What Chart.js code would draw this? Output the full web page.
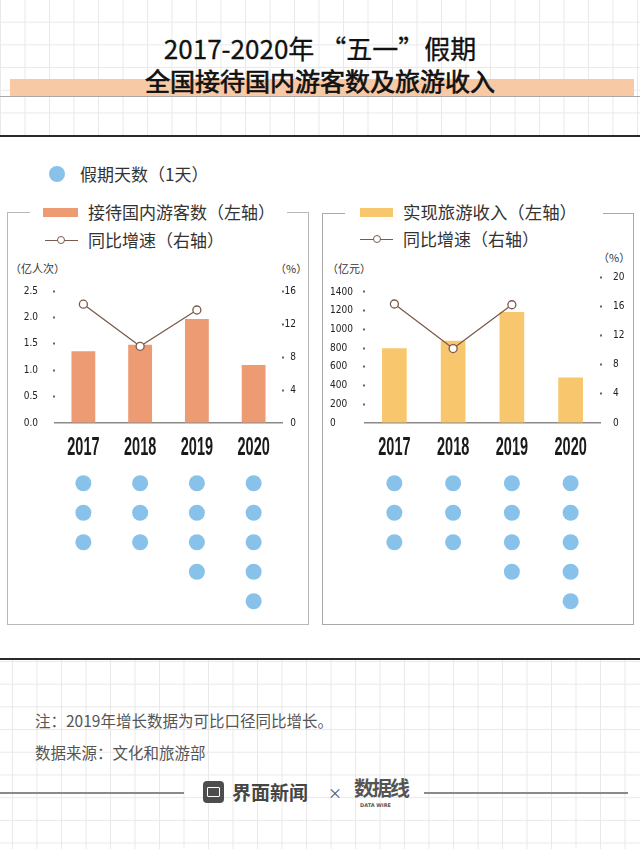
<!DOCTYPE html>
<html>
<head>
<meta charset="utf-8">
<script src="https://cdn.jsdelivr.net/npm/chart.js@4.4.0/dist/chart.umd.min.js"></script>
<style>
body { margin: 0; width: 640px; height: 849px; position: relative; overflow: hidden; background: #fff;
       font-family: "Noto Sans CJK SC", sans-serif; color: #333; }
.abs { position: absolute; }
.grid { position: absolute; left: 0; width: 640px; background-color: #fff;
        background-image: linear-gradient(to right, #e9e9e9 1px, transparent 1px),
                          linear-gradient(to bottom, #e9e9e9 1px, transparent 1px);
        background-size: 24.5px 22.7px; }
.txt { position: absolute; white-space: nowrap; line-height: 1; }
.box { position: absolute; border: 1px solid #b8b8b8; box-sizing: border-box; }
.legend { position: absolute; background: #fff; height: 50px; }
canvas { position: absolute; }
</style>
</head>
<body>
<div class="grid" style="top:0;height:136px;background-position:0 -1px"></div>
<div class="grid" style="top:660px;height:189px;background-position:12px 1px"></div>

<!-- title -->
<div class="abs" style="left:10px;top:79px;width:624px;height:18px;background:#f7c9a5"></div>
<div class="abs" style="left:0;top:96px;width:640px;height:1px;background:#a8a8a8"></div>
<div class="txt" style="left:0;width:640px;text-align:center;top:35px;font-size:26px;font-weight:400;color:#111;-webkit-text-stroke:0.3px #111">2017-2020年 “五一”假期</div>
<div class="txt" style="left:0;width:640px;text-align:center;top:68px;font-size:25px;font-weight:400;color:#111;-webkit-text-stroke:0.7px #111">全国接待国内游客数及旅游收入</div>
<div class="abs" style="left:0;top:135px;width:640px;height:2px;background:#2a2a2a"></div>
<div class="abs" style="left:0;top:658px;width:640px;height:2px;background:#2a2a2a"></div>

<!-- days legend -->
<div class="abs" style="left:49px;top:166px;width:16px;height:16px;border-radius:50%;background:#88c2ea"></div>
<div class="txt" style="left:80px;top:164.5px;font-size:17px">假期天数（1天）</div>

<!-- panels -->
<div class="box" style="left:7px;top:212px;width:302px;height:413px"></div>
<div class="box" style="left:322px;top:213px;width:312px;height:412px;border-color:#a8a8a8"></div>

<div class="legend" style="left:30px;top:200px;width:257px;height:24px"></div>
<div class="abs" style="left:43px;top:208px;width:35px;height:9px;background:#ec9b73"></div>
<div class="txt" style="left:88px;top:202.5px;font-size:17px">接待国内游客数（左轴）</div>
<div class="abs" style="left:45px;top:239.5px;width:33px;height:1.2px;background:#7a5a4b"></div>
<div class="abs" style="left:57px;top:236px;width:6px;height:6px;border-radius:50%;background:#fff;border:1.2px solid #7a5a4b"></div>
<div class="txt" style="left:88px;top:230.5px;font-size:17px">同比增速（右轴）</div>
<div class="txt" style="left:10px;top:263px;font-size:11px">（亿人次）</div>
<div class="txt" style="left:275px;top:263px;font-size:11px">（%）</div>

<div class="legend" style="left:345px;top:200px;width:258px;height:24px"></div>
<div class="abs" style="left:360px;top:208px;width:33px;height:9px;background:#f8c66d"></div>
<div class="txt" style="left:403px;top:202.5px;font-size:17.4px">实现旅游收入（左轴）</div>
<div class="abs" style="left:360px;top:238.5px;width:33px;height:1.2px;background:#7a5a4b"></div>
<div class="abs" style="left:373px;top:235px;width:6px;height:6px;border-radius:50%;background:#fff;border:1.2px solid #7a5a4b"></div>
<div class="txt" style="left:403px;top:229.5px;font-size:17px">同比增速（右轴）</div>
<div class="txt" style="left:327px;top:263px;font-size:11px">（亿元）</div>
<div class="txt" style="left:598px;top:252px;font-size:11px">（%）</div>

<canvas id="tripsChart" width="296" height="200" style="left:0;top:270px"></canvas>
<canvas id="tripsDays" width="296" height="170" style="left:0;top:455px"></canvas>
<canvas id="revenueChart" width="315" height="215" style="left:320px;top:255px"></canvas>
<canvas id="revenueDays" width="315" height="170" style="left:320px;top:455px"></canvas>

<!-- footer -->
<div class="txt" style="left:35px;top:712.5px;font-size:15.5px;color:#555">注：2019年增长数据为可比口径同比增长。</div>
<div class="txt" style="left:35px;top:744.5px;font-size:15.5px;color:#555">数据来源：文化和旅游部</div>
<div class="abs" style="left:0;top:792px;width:184px;height:2px;background:#8a8a8a"></div>
<div class="abs" style="left:424px;top:792px;width:204px;height:2px;background:#8a8a8a"></div>
<div class="abs" style="left:203px;top:781px;width:21px;height:22px;border-radius:4px;background:#4d4d4d"></div>
<div class="abs" style="left:207px;top:787px;width:11px;height:8px;border:1.5px solid #fff;border-radius:1px"></div>
<div class="txt" style="left:232px;top:781.5px;font-size:19px;font-weight:700;color:#454545">界面新闻</div>
<div class="txt" style="left:328px;top:785px;font-size:14px;color:#555">×</div>
<div class="txt" style="left:354px;top:778px;font-size:20px;font-weight:700;color:#555;letter-spacing:-2px">数据线</div>
<div class="txt" style="left:360px;top:803px;font-size:5px;font-weight:700;color:#555;font-family:'DejaVu Sans'">DATA WIRE</div>

<script>
// data
const years = ['2017', '2018', '2019', '2020'];
const touristTrips = [1.36, 1.48, 1.97, 1.1];      // 亿人次
const tripsGrowth = [14.4, 9.3, 13.7, null];      // %
const tourismRevenue = [800, 878, 1185, 485];      // 亿元
const revenueGrowth = [16.3, 10.2, 16.2, null];   // %
const holidayDays = [3, 3, 4, 5];

const tripsTicks = [0, 0.5, 1, 1.5, 2, 2.5];
const tripsGrowthTicks = [0, 4, 8, 12, 16];
const revenueTicks = [0, 200, 400, 600, 800, 1000, 1200, 1400];
const revenueGrowthTicks = [0, 4, 8, 12, 16, 20];

const lineColor = '#7a5a4b';
const dotColor = '#88c2ea';
const tickFont = { family: '"DejaVu Sans Condensed", "Liberation Sans Narrow", sans-serif', size: 10 };

// big condensed year labels under the bars
const yearLabels = {
    id: 'yearLabels',
    afterDraw(chart) {
        const x = chart.scales.x;
        const ctx = chart.ctx;
        ctx.save();
        ctx.fillStyle = '#1a1a1a';
        ctx.font = 'bold 25px "Liberation Sans", Arial, sans-serif';
        ctx.textAlign = 'center';
        ctx.textBaseline = 'alphabetic';
        chart.data.labels.forEach((lab, i) => {
            ctx.save();
            ctx.translate(x.getPixelForTick(i), x.top + 32);
            ctx.scale(0.58, 1);
            ctx.fillText(lab, 0, 0);
            ctx.restore();
        });
        ctx.restore();
    }
};

const dotTick = ctx => (ctx.tick && ctx.tick.value === 0) ? 'rgba(0,0,0,0)' : '#666';

function valueAxis(pos, max, ticks, width, padding, align, fmt) {
    return {
        position: pos, min: 0, max: max,
        afterBuildTicks: s => { s.ticks = ticks.map(v => ({ value: v })); },
        afterFit: s => { s.width = width; },
        border: { display: false },
        grid: { drawOnChartArea: false, drawTicks: true, tickLength: 2, tickWidth: 2, tickColor: dotTick },
        ticks: { padding: padding, crossAlign: align, color: '#222', font: tickFont, callback: fmt }
    };
}

function barChart(id, values, growth, color, pad, left, right) {
    return new Chart(document.getElementById(id), {
        type: 'bar',
        data: {
            labels: years,
            datasets: [{
                type: 'line',
                data: growth,
                yAxisID: 'y1',
                order: 1,
                borderColor: lineColor,
                borderWidth: 1.3,
                pointRadius: 4,
                pointBackgroundColor: '#fff',
                pointBorderColor: lineColor,
                pointBorderWidth: 1.3,
                spanGaps: false
            }, {
                data: values,
                yAxisID: 'y',
                order: 2,
                backgroundColor: color,
                barPercentage: 0.42,
                categoryPercentage: 1
            }]
        },
        options: {
            responsive: false,
            animation: false,
            layout: { padding: pad },
            plugins: { legend: { display: false }, tooltip: { enabled: false } },
            scales: {
                x: {
                    afterFit: s => { s.height = 47; },
                    grid: { display: false },
                    border: { display: true, color: '#8a8a8a', width: 1.5 },
                    ticks: { display: false }
                },
                y: left,
                y1: right
            }
        },
        plugins: [yearLabels]
    });
}

function daysChart(id, pad) {
    const pts = [];
    years.forEach((yr, i) => {
        for (let d = 1; d <= holidayDays[i]; d++) pts.push({ x: yr, y: d });
    });
    return new Chart(document.getElementById(id), {
        type: 'line',
        data: {
            labels: years,
            datasets: [{
                data: pts,
                showLine: false,
                pointRadius: 8,
                pointBorderWidth: 0,
                pointBackgroundColor: dotColor,
                clip: false
            }]
        },
        options: {
            responsive: false,
            animation: false,
            layout: { padding: pad },
            plugins: { legend: { display: false }, tooltip: { enabled: false } },
            scales: {
                x: { display: false, offset: true },
                y: { display: false, min: 0.5, max: 5.5, reverse: true }
            }
        }
    });
}

barChart('tripsChart', touristTrips, tripsGrowth, '#ec9b73',
    { top: 21, left: 0, right: 0, bottom: 0 },
    valueAxis('left', 2.5, tripsTicks, 55, 15, 'near', v => v.toFixed(1)),
    valueAxis('right', 16, tripsGrowthTicks, 14, 4, 'far', v => v));

barChart('revenueChart', tourismRevenue, revenueGrowth, '#f8c66d',
    { top: 22, left: 10, right: 0, bottom: 0 },
    valueAxis('left', 1560, revenueTicks, 35, 4, 'far', v => v),
    valueAxis('right', 20, revenueGrowthTicks, 35, 11, 'near', v => v));

daysChart('tripsDays', { top: 13.5, left: 55, right: 14, bottom: 9 });
daysChart('revenueDays', { top: 13.5, left: 45, right: 35, bottom: 9 });
</script>
</body>
</html>
